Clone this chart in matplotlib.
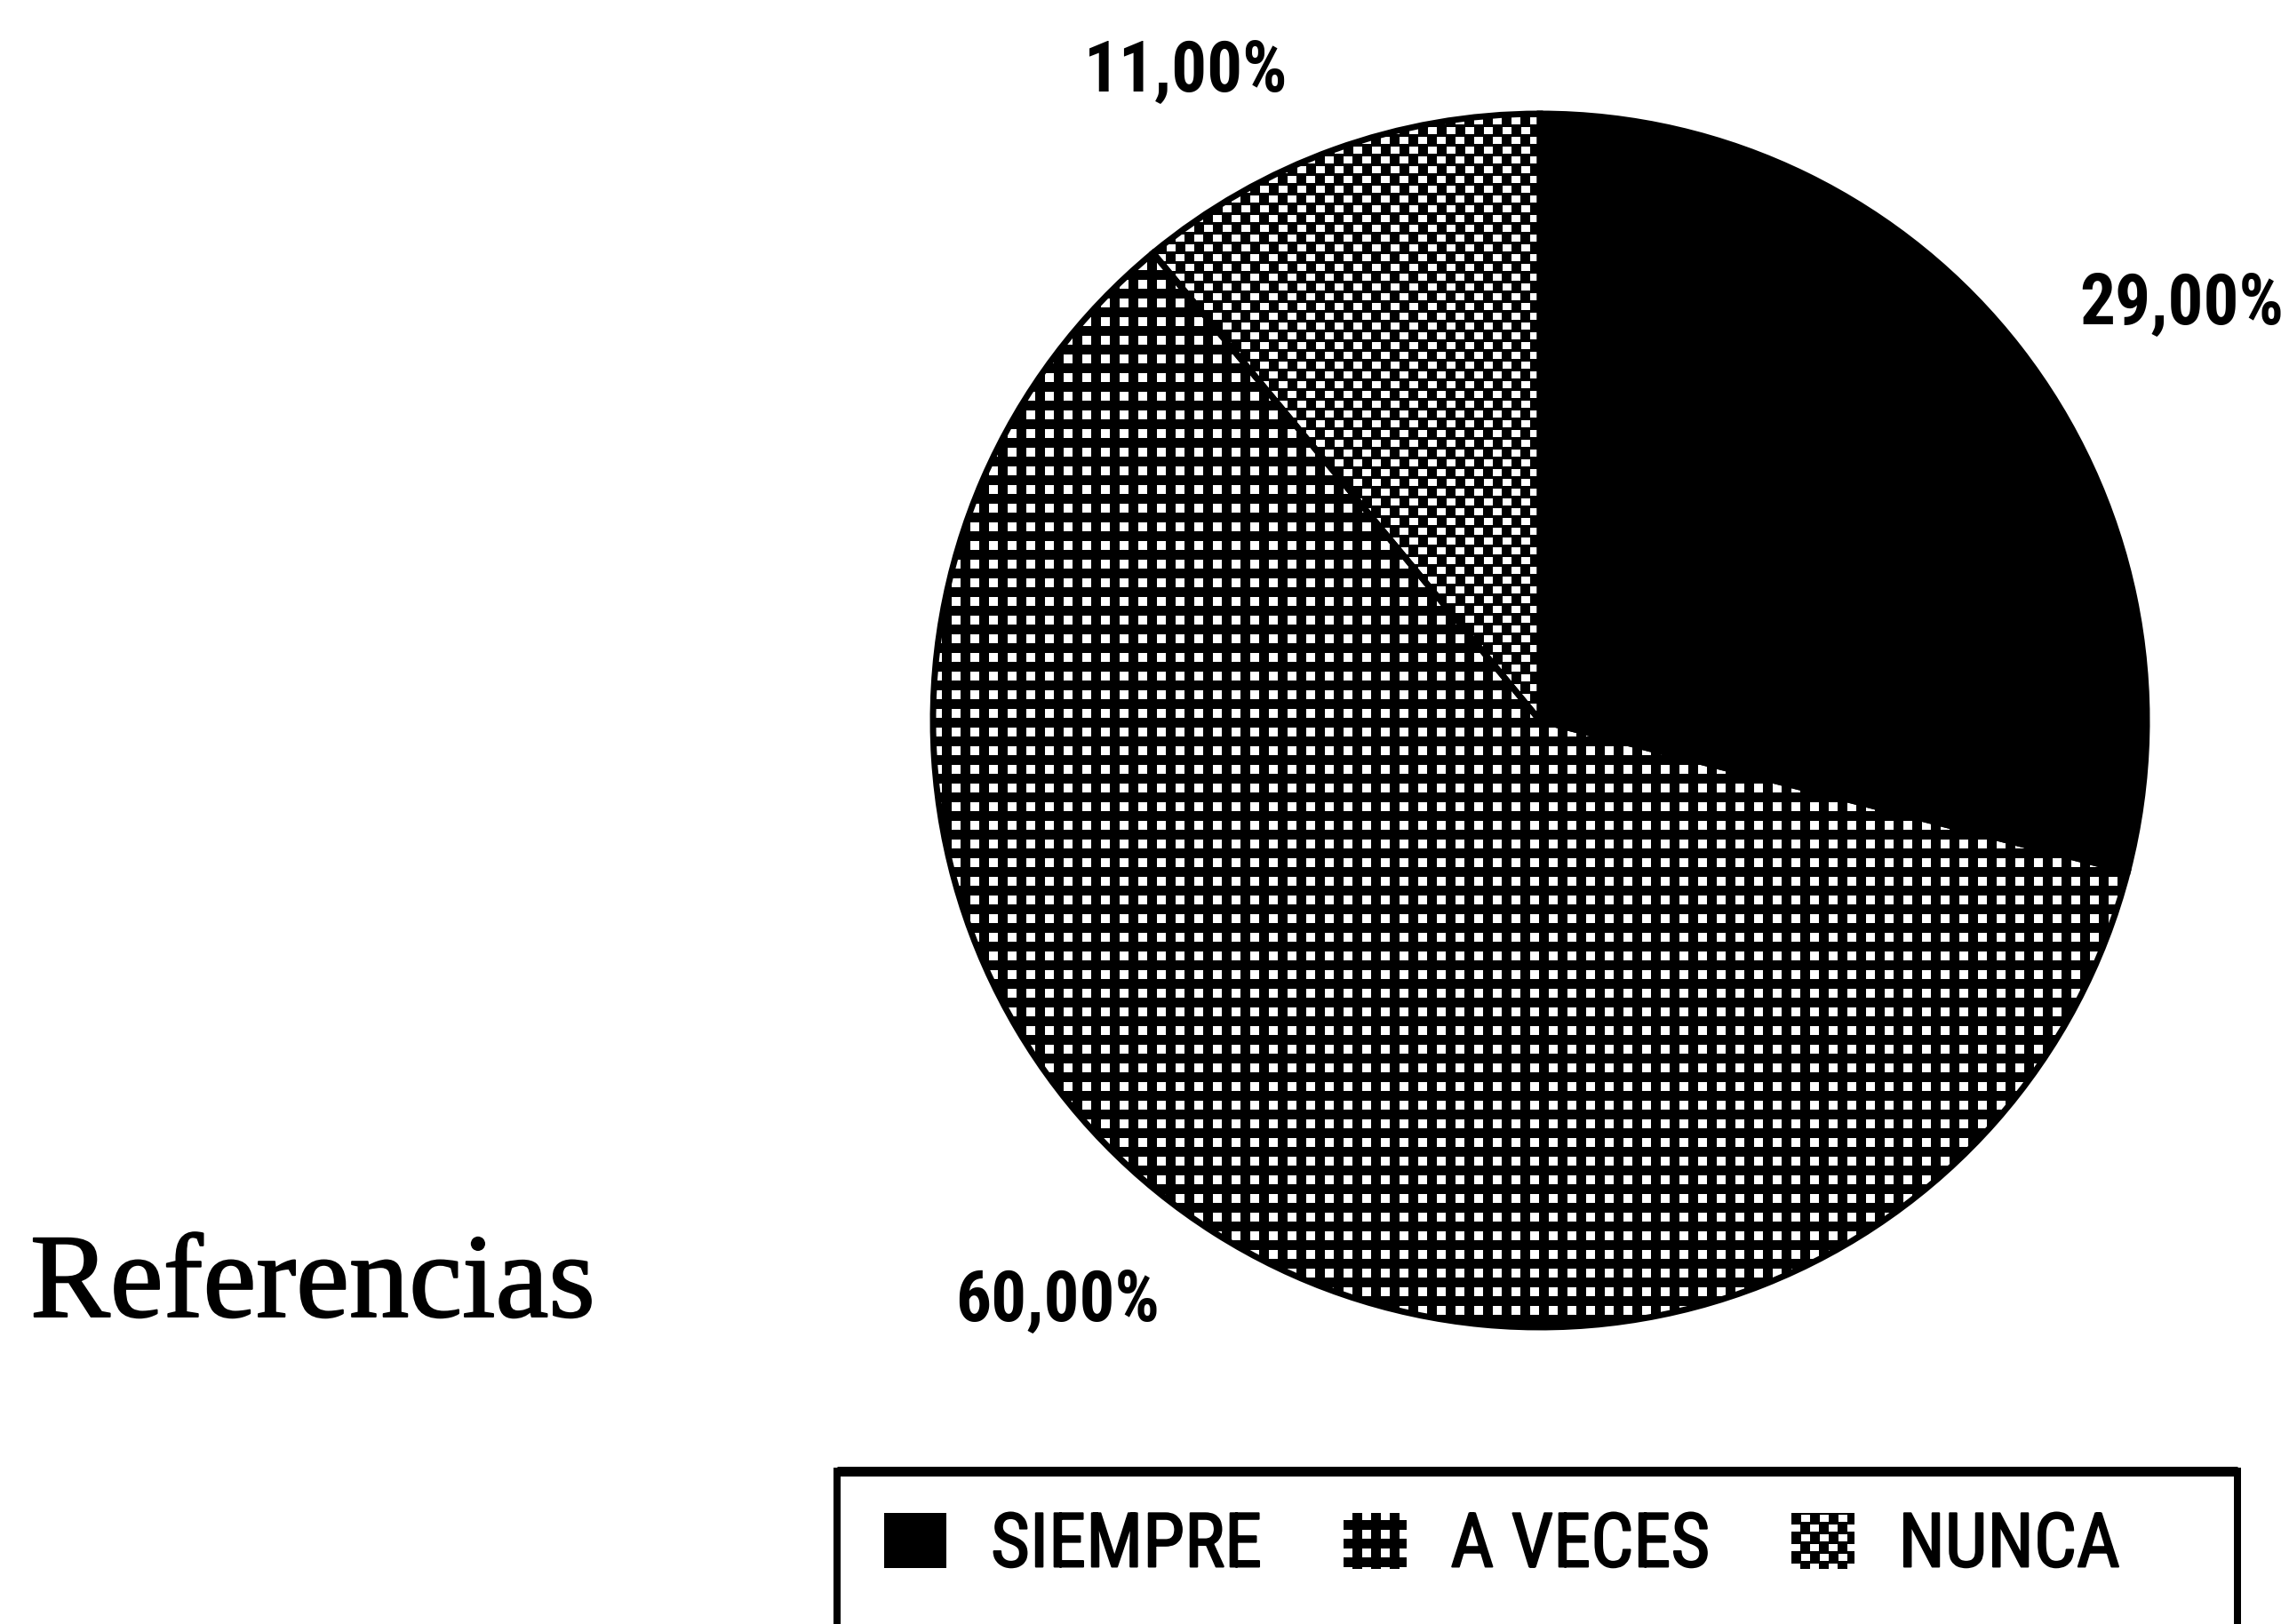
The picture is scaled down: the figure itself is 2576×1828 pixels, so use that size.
import numpy as np
import matplotlib
matplotlib.use('Agg')
import matplotlib.pyplot as plt
from matplotlib import font_manager as fm
from matplotlib.font_manager import FontProperties
from matplotlib.patches import Rectangle
from matplotlib.lines import Line2D
import matplotlib.patheffects as pe

# ---------------- data ----------------
categories = ['SIEMPRE', 'A VECES', 'NUNCA']
values = [29.0, 60.0, 11.0]
value_labels = ['29,00%', '60,00%', '11,00%']
side_title = 'Referencias'

# ---------------- layout / style ----------------
W, H, DPI = 2576, 1828, 100
PT = 72.0 / DPI  # points per pixel


def find_condensed(bold):
    prefs = ['liberation sans narrow', 'arial narrow', 'roboto condensed',
             'noto sans condensed', 'open sans condensed', 'dejavu sans condensed',
             'nimbus sans narrow']
    cands = []
    for f in fm.fontManager.ttflist:
        p = f.fname.lower()
        if not ('narrow' in p or 'condensed' in p):
            continue
        if 'italic' in p or 'oblique' in p:
            continue
        w = f.weight if isinstance(f.weight, int) else (700 if 'bold' in str(f.weight) else 400)
        want = 700 if bold else 400
        name = (f.name + ' ' + ('narrow' if 'narrow' in p else 'condensed')).lower()
        rank = len(prefs)
        for i, pr in enumerate(prefs):
            if pr.split()[0] in name:
                rank = i
                break
        cands.append((rank, abs(w - want), f.fname))
    if not cands:
        return None
    cands.sort()
    return cands[0][2]


reg_path = find_condensed(False)
bold_path = find_condensed(True)
if reg_path and bold_path:
    legend_fp = lambda size: FontProperties(fname=reg_path, size=size)
    label_fp = lambda size: FontProperties(fname=bold_path, size=size)
    shrink = 1.0
else:
    legend_fp = lambda size: FontProperties(family=['Liberation Sans', 'DejaVu Sans'], size=size)
    label_fp = lambda size: FontProperties(family=['Liberation Sans', 'DejaVu Sans'],
                                           weight='bold', size=size)
    shrink = 0.84
serif = ['Liberation Serif', 'DejaVu Serif']

fig = plt.figure(figsize=(W / DPI, H / DPI), dpi=DPI, facecolor='white')

# pie placement in pixels (center x, center y from top, radius)
cx, cy, rad = 1733, 811, 683
rect = [(cx - rad) / W, (H - cy - rad) / H, 2 * rad / W, 2 * rad / H]
ax = fig.add_axes(rect)
wedges, _ = ax.pie(values, startangle=90, counterclock=False,
                   colors=['black'] * len(values),
                   wedgeprops=dict(linewidth=0), radius=1.0)
ax.set_xlim(-1, 1)
ax.set_ylim(-1, 1)
ax.set_aspect('equal')
ax.axis('off')

# textures (black background, white squares), pixel aligned
yy, xx = np.mgrid[0:H, 0:W]


def texture(mask):
    img = np.zeros((H, W, 4), dtype=np.uint8)
    img[..., 3] = 255
    img[mask, :3] = 255
    return img


avec_mask = ((xx % 21) < 10) & ((yy % 21) < 10)
rowi = yy // 11
nunca_mask = ((yy % 11) < 8) & (((xx + (rowi % 2) * 10) % 21) < 10)
textures = [None, texture(avec_mask), texture(nunca_mask)]

for w, tex in zip(wedges, textures):
    if tex is None:
        continue
    im = fig.figimage(tex, xo=0, yo=0, origin='upper', zorder=1)
    im.set_clip_path(w)

# outline overlay
ax2 = fig.add_axes(rect, zorder=2)
ax2.pie(values, startangle=90, counterclock=False,
        wedgeprops=dict(fill=False, edgecolor='black', linewidth=5), radius=1.0)
ax2.set_xlim(-1, 1)
ax2.set_ylim(-1, 1)
ax2.set_aspect('equal')
ax2.axis('off')

# value labels (left/baseline positions in pie-radius units)
label_pos = [(0.889, 0.653), (-0.963, -0.990), (-0.751, 1.037)]
for txt, (lx, ly) in zip(value_labels, label_pos):
    ax2.text(lx, ly, txt, ha='left', va='baseline',
             fontproperties=label_fp(57 * shrink), color='black', clip_on=False)

# side title
fig.text(34 / W, (H - 1482) / H, side_title, family=serif, fontsize=97,
         ha='left', va='baseline', color='black',
         path_effects=[pe.withStroke(linewidth=1.4, foreground='black')])

# legend
fs = 61 * shrink
leg = fig.legend(wedges, categories, loc='center left',
                 bbox_to_anchor=(995 / W, (H - 1740) / H), ncol=3, frameon=False,
                 prop=legend_fp(fs),
                 handlelength=70 * PT / fs, handleheight=63 * PT / fs,
                 handletextpad=50 * PT / fs, columnspacing=92 * PT / fs,
                 borderpad=0, borderaxespad=0)
for t in leg.get_texts():
    t.set_path_effects([pe.withStroke(linewidth=1.4, foreground='black')])

# legend box (runs off the bottom of the page)
top = (H - 1656) / H
box = Rectangle((942 / W, -0.1), (2518 - 942) / W, top + 0.1,
                transform=fig.transFigure, fill=False, edgecolor='black',
                linewidth=8 * PT, clip_on=False)
fig.add_artist(box)
fig.add_artist(Line2D([942 / W, 2518 / W], [top, top], transform=fig.transFigure,
                      color='black', linewidth=11 * PT, solid_capstyle='butt'))

fig.canvas.draw()
for h, tex in zip(leg.legend_handles, textures):
    if tex is None:
        continue
    im = fig.figimage(tex, xo=0, yo=0, origin='upper', zorder=10)
    im.set_clip_path(h)

fig.savefig('out.png', dpi=DPI, facecolor='white')
